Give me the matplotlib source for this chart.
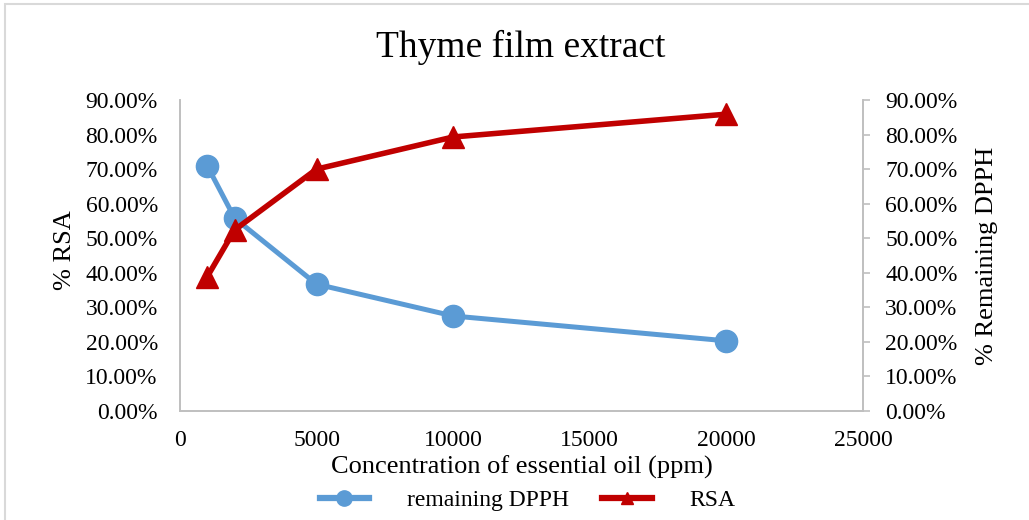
import matplotlib
matplotlib.use("Agg")
import matplotlib.pyplot as plt
from matplotlib.ticker import PercentFormatter, MultipleLocator
from matplotlib.patches import Rectangle
from matplotlib.lines import Line2D

plt.rcParams['font.family'] = ['Liberation Serif', 'DejaVu Serif']

concentration = [1000, 2000, 5000, 10000, 20000]
rsa = [0.389, 0.524, 0.700, 0.793, 0.859]
remaining_dpph = [0.709, 0.558, 0.367, 0.275, 0.203]
x_ticks = [0, 5000, 10000, 15000, 20000, 25000]

blue = '#5B9BD5'
red = '#C00000'
grey = '#BFBFBF'

fig = plt.figure(figsize=(10.29, 5.2), dpi=100)
fig.patches.append(Rectangle((5/1029, -0.1), 1.2, 1 - 4/520 + 0.1, transform=fig.transFigure,
                             fill=False, edgecolor='#D9D9D9', linewidth=1.5))

ax = fig.add_axes([180/1029, 1 - 411/520, (863-180)/1029, (411-100)/520])
ax2 = ax.twinx()

ax2.plot(concentration, remaining_dpph, color=blue, linewidth=3.6, marker='o',
         markersize=16, label='remaining DPPH', zorder=2)
ax.plot(concentration, rsa, color=red, linewidth=4, marker='^',
        markersize=16, label='RSA', zorder=3)

# draw primary axis (red) on top of secondary
ax.set_zorder(ax2.get_zorder() + 1)
ax.patch.set_visible(False)

for a in (ax, ax2):
    a.set_ylim(0, 0.9)
    a.yaxis.set_major_locator(MultipleLocator(0.1))
    a.yaxis.set_major_formatter(PercentFormatter(1.0, decimals=2))
    for s in a.spines.values():
        s.set_color(grey)
        s.set_linewidth(1.2)
    a.spines['top'].set_visible(False)

ax.set_xlim(0, 25000)
ax.set_xticks(x_ticks)
ax.tick_params(axis='x', length=0, labelsize=17, pad=14)
ax.tick_params(axis='y', length=0, labelsize=17, pad=16)
ax2.tick_params(axis='y', length=5, color=grey, width=1.2, labelsize=17, pad=11)

ax.set_ylabel('% RSA', fontsize=19, va='center')
ax.yaxis.set_label_coords(-0.168, 0.518)
ax2.set_ylabel('% Remaining DPPH', fontsize=19, va='center')
ax2.yaxis.set_label_coords(1.1816, 0.498)
ax.set_xlabel('Concentration of essential oil (ppm)', fontsize=19, va='center')
ax.xaxis.set_label_coords(0.5, -0.18)

fig.text(0.506, 1 - 47/520, 'Thyme film extract', fontsize=27, ha='center', va='center')

handles = [Line2D([], [], color=blue, linewidth=4.5, marker='o', markersize=11),
           Line2D([], [], color=red, linewidth=4.5, marker='^', markersize=8)]
fig.legend(handles, ['remaining DPPH', 'RSA'], loc='center', bbox_to_anchor=(527.5/1029, 1 - 500/520),
           ncol=2, frameon=False, fontsize=17, handlelength=2.1, columnspacing=1.4,
           handletextpad=1.6, borderpad=0)

fig.savefig('out.png', dpi=100)
